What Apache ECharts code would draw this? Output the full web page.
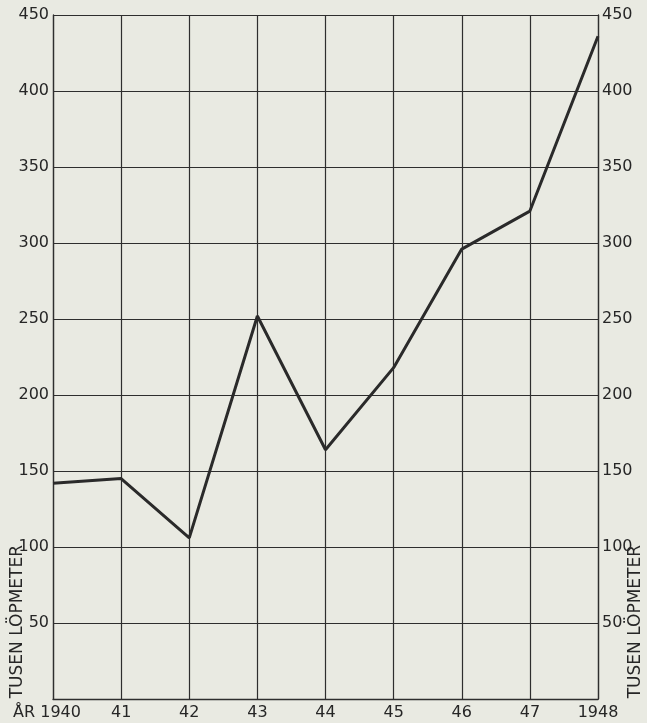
<!DOCTYPE html>
<html><head><meta charset="utf-8">
<script src="https://cdn.jsdelivr.net/npm/echarts@6/dist/echarts.min.js"></script>
<style>html,body{margin:0;padding:0;background:#e9eae2;}#c{width:647px;height:723px;}</style>
</head><body><div id="c"></div>
<script>
const years = ['1940','41','42','43','44','45','46','47','1948'];
const values = [142, 145, 106, 252, 164, 218, 296, 321, 436];
const yTicks = [0, 50, 100, 150, 200, 250, 300, 350, 400, 450];
const axisTitle = 'TUSEN LÖPMETER';
const firstPrefix = 'ÅR ';

const ink = '#2e2e2e';
const font = 'DejaVu Sans';
const chart = echarts.init(document.getElementById('c'));
const yAxisBase = {
  type: 'value', min: yTicks[0], max: yTicks[yTicks.length-1], interval: 50,
  axisLine: {show: true, lineStyle: {color: ink, width: 1.3}},
  axisTick: {show: false},
  axisLabel: {color: '#262626', fontFamily: font, fontSize: 16, margin: 4,
    formatter: v => v === 0 ? '' : String(v)}
};
chart.setOption({
  backgroundColor: '#e9eae2',
  animation: false,
  grid: {left: 53, right: 49, top: 15, bottom: 24, containLabel: false},
  xAxis: {
    type: 'category', data: years, boundaryGap: false,
    axisLine: {show: true, lineStyle: {color: ink, width: 1.3}},
    axisTick: {show: false},
    splitLine: {show: true, lineStyle: {color: ink, width: 1.2}},
    axisLabel: {color: '#262626', fontFamily: font, fontSize: 16, margin: 6, interval: 0,
      formatter: (v, i) => i === 0 ? '{a|' + firstPrefix + v + '}' : v,
      rich: {a: {fontFamily: font, fontSize: 16, color: '#262626', padding: [0, 12, 0, 0]}}}
  },
  yAxis: [
    Object.assign({}, yAxisBase, {position: 'left',
      splitLine: {show: true, lineStyle: {color: ink, width: 1.2}}}),
    Object.assign({}, yAxisBase, {position: 'right', splitLine: {show: false}})
  ],
  series: [{
    type: 'line', data: values, symbol: 'none',
    lineStyle: {color: '#2a2a2a', width: 3}
  }],
  graphic: [
    {type: 'text', left: 9, top: 545, rotation: Math.PI/2,
     style: {text: axisTitle, fill: '#262626', font: '17px "' + font + '"'}},
    {type: 'text', left: 627, top: 545, rotation: Math.PI/2,
     style: {text: axisTitle, fill: '#262626', font: '17px "' + font + '"'}}
  ]
});
</script></body></html>
